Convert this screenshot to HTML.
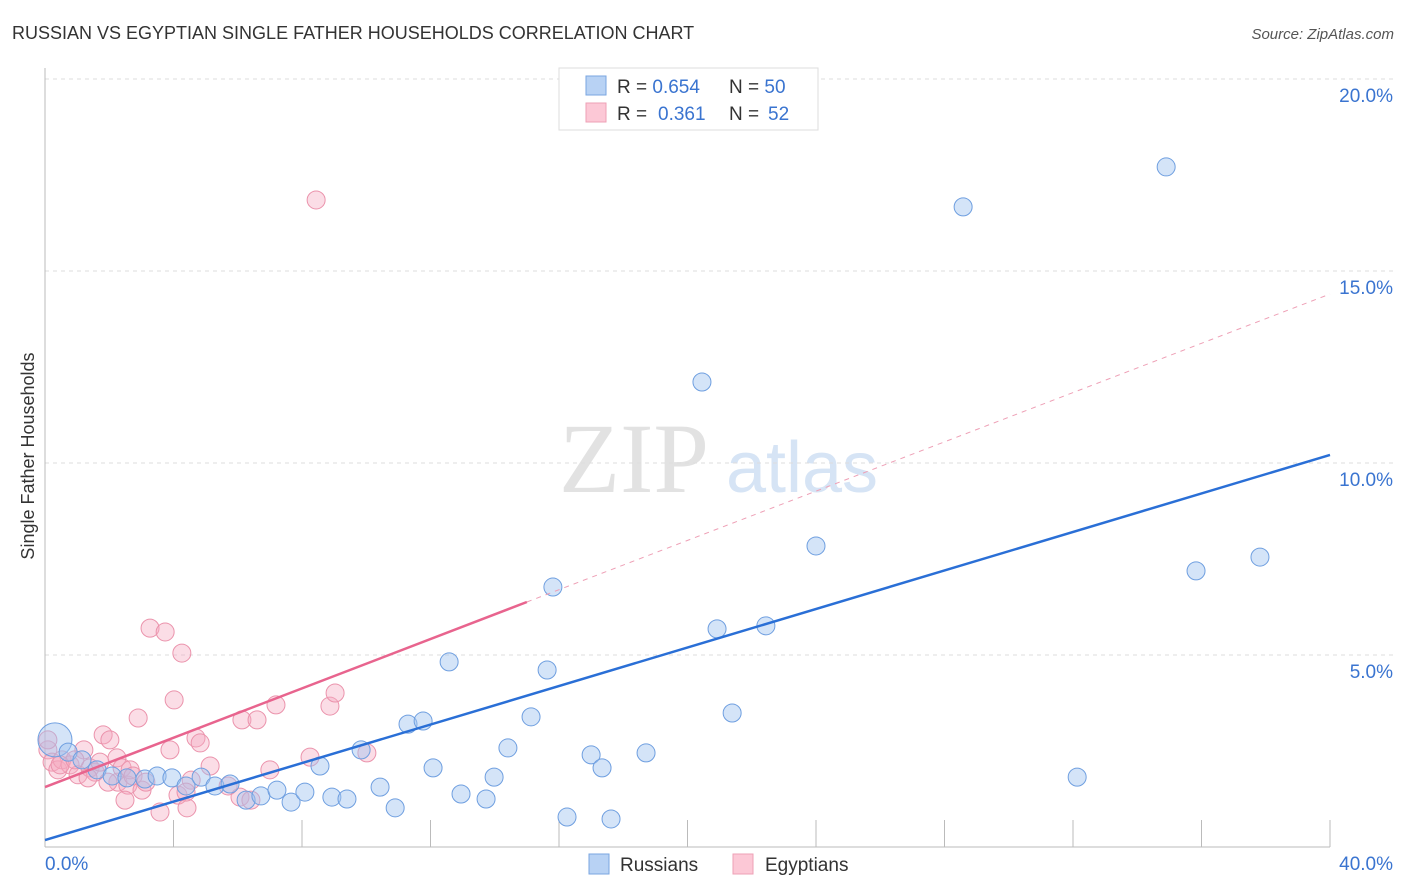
<!DOCTYPE html>
<html><head><meta charset="utf-8"><style>
body{margin:0;background:#fff;font-family:"Liberation Sans",sans-serif}
svg{display:block}
</style></head><body>
<svg width="1406" height="892" xmlns="http://www.w3.org/2000/svg">
<text x="12" y="39" font-size="18" fill="#333">RUSSIAN VS EGYPTIAN SINGLE FATHER HOUSEHOLDS CORRELATION CHART</text>
<text x="1394" y="39" font-size="15" fill="#555" font-style="italic" text-anchor="end">Source: ZipAtlas.com</text>
<g>
<text x="634" y="492" font-size="100" font-family="Liberation Serif,serif" fill="#e2e2e2" text-anchor="middle">ZIP</text>
<text x="802" y="492" font-size="72" fill="#d6e4f5" text-anchor="middle">atlas</text>
</g>
<g id="grid"></g>
<g id="axes"></g>
<text transform="translate(34,456) rotate(-90)" font-size="18" fill="#333" text-anchor="middle">Single Father Households</text>
<g id="pts"></g>
<g id="lines"></g>
<g>
<rect x="559" y="68" width="259" height="62" fill="#fff" stroke="#ddd"/>
<rect x="586" y="76" width="20" height="19" fill="#b8d2f4" stroke="#7aa6e0"/>
<rect x="586" y="103" width="20" height="19" fill="#fcc8d6" stroke="#eea0b6"/>
<text x="617" y="93" font-size="19" fill="#333">R = <tspan fill="#3a74d0">0.654</tspan><tspan x="729">N = </tspan><tspan fill="#3a74d0">50</tspan></text>
<text x="617" y="120" font-size="19" fill="#333">R = <tspan x="658" fill="#3a74d0">0.361</tspan><tspan x="729">N = </tspan><tspan x="768" fill="#3a74d0">52</tspan></text>
</g>
<g>
<rect x="589" y="854" width="20" height="20" fill="#b8d2f4" stroke="#7aa6e0"/>
<text x="620" y="871" font-size="19" fill="#333">Russians</text>
<rect x="733" y="854" width="20" height="20" fill="#fcc8d6" stroke="#eea0b6"/>
<text x="765" y="871" font-size="19" fill="#333">Egyptians</text>
</g>
</svg>
<script>
const xTicks=[0,4,8,12,16,20,24,28,32,36,40];
const yTicks=[5,10,15,20];
const yTickLabels=["5.0%","10.0%","15.0%","20.0%"];
const xAxisLabels=["0.0%","40.0%"];
const rusX=[0.31,0.72,1.15,1.62,2.09,2.55,3.11,3.49,3.95,4.39,4.86,5.29,5.76,6.26,6.72,7.22,7.66,8.09,8.56,8.93,9.40,9.84,10.43,10.90,11.30,11.77,12.08,12.58,12.95,13.73,13.98,14.41,15.13,15.63,15.81,16.25,17.00,17.34,17.62,18.71,20.45,20.92,21.39,22.44,24.00,28.58,32.13,34.90,35.83,37.82];
const rusY=[2.79,2.47,2.27,2.01,1.85,1.80,1.77,1.85,1.80,1.59,1.82,1.59,1.64,1.22,1.33,1.48,1.17,1.43,2.11,1.30,1.25,2.53,1.56,1.02,3.20,3.28,2.06,4.82,1.38,1.25,1.82,2.58,3.39,4.61,6.77,0.78,2.40,2.06,0.73,2.45,12.11,5.68,3.49,5.76,7.84,16.67,1.82,17.71,7.19,7.55];
const egyX=[0.09,0.22,0.40,0.53,0.78,1.03,1.21,1.40,1.56,1.71,1.81,2.02,2.24,2.27,2.40,2.58,2.49,2.65,2.90,3.02,3.27,3.58,3.74,3.89,4.02,4.14,4.26,4.42,4.55,4.70,4.83,5.14,6.07,6.13,6.41,6.60,7.19,8.25,8.44,8.87,9.03,10.02,0.09,0.47,0.93,1.34,1.96,2.74,3.14,4.39,5.70,7.00];
const egyY=[2.53,2.21,2.01,2.27,2.14,1.88,2.53,2.06,1.95,2.21,2.92,2.79,2.32,1.69,2.06,1.61,1.22,2.01,3.36,1.48,5.70,0.91,5.60,2.53,3.83,1.35,5.05,1.02,1.74,2.84,2.71,2.11,1.30,3.31,1.22,3.31,3.70,2.34,16.85,3.67,4.01,2.45,2.79,2.14,2.27,1.80,1.69,1.85,1.69,1.43,1.59,2.01];
const rusTrend=[0,0.18,40,10.21];
const egyTrend=[0,1.56,15,6.38,40,14.4];
const X=v=>45+v*1285/40, Y=v=>847-v*38.4;
const NS="http://www.w3.org/2000/svg";
function mk(t,a,p){const e=document.createElementNS(NS,t);for(const k in a)e.setAttribute(k,a[k]);p.appendChild(e);return e;}
const grid=document.getElementById('grid'),axes=document.getElementById('axes');
yTicks.forEach((t,i)=>{
 const l=mk('line',{x1:45,x2:1394,y1:Y(t),y2:Y(t),stroke:'#ddd','stroke-dasharray':'4,4'},grid);
 
 
 const tx=mk('text',{x:1393,y:Y(t)+23,'font-size':19,fill:'#3a74d0','text-anchor':'end'},axes);
 tx.textContent=yTickLabels[i];
 
 
});
mk('line',{x1:45,x2:45,y1:68,y2:847,stroke:'#bbb'},axes);
mk('line',{x1:45,x2:1330,y1:847,y2:847,stroke:'#bbb'},axes);
xTicks.slice(1).forEach(t=>{
 const l=mk('line',{x1:X(t),x2:X(t),y1:820,y2:847,stroke:'#bbb'},axes);
 
 
});
const a0=mk('text',{x:45,y:870,'font-size':19,fill:'#3a74d0'},axes);a0.textContent=xAxisLabels[0];


const a1=mk('text',{x:1393,y:870,'font-size':19,fill:'#3a74d0','text-anchor':'end'},axes);a1.textContent=xAxisLabels[1];


const pts=document.getElementById('pts');
egyX.forEach((x,i)=>{
 const c=mk('circle',{cx:X(x),cy:Y(egyY[i]),r:9,fill:'rgba(246,170,192,0.4)',stroke:'#eb93ac','stroke-width':1},pts);
 
 
});
rusX.forEach((x,i)=>{
 const c=mk('circle',{cx:X(x),cy:Y(rusY[i]),r:i==0?17:9,fill:'rgba(160,196,240,0.45)',stroke:'#6f9fe0','stroke-width':1},pts);
 
 
});
const ln=document.getElementById('lines');
const b=mk('line',{x1:X(rusTrend[0]),y1:Y(rusTrend[1]),x2:X(rusTrend[2]),y2:Y(rusTrend[3]),stroke:'#2a6fd6','stroke-width':2.5},ln);


const p=mk('line',{x1:X(egyTrend[0]),y1:Y(egyTrend[1]),x2:X(egyTrend[2]),y2:Y(egyTrend[3]),stroke:'#e8648e','stroke-width':2.5},ln);


const pd=mk('line',{x1:X(egyTrend[2]),y1:Y(egyTrend[3]),x2:X(egyTrend[4]),y2:Y(egyTrend[5]),stroke:'#eea0b6','stroke-width':1,'stroke-dasharray':'5,5'},ln);


</script>
</body></html>
